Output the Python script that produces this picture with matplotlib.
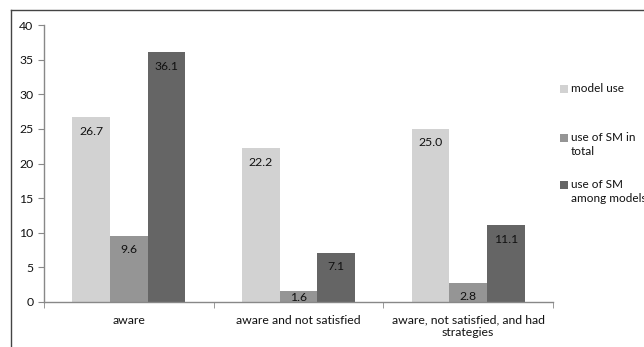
import matplotlib
matplotlib.use("Agg")
import matplotlib.pyplot as plt
import numpy as np
from matplotlib.lines import Line2D
from matplotlib.patches import Rectangle

categories = ["aware", "aware and not satisfied", "aware, not satisfied, and had\nstrategies"]
series_names = ["model use", "use of SM in\ntotal", "use of SM\namong models"]
model_use = [26.7, 22.2, 25.0]
sm_total = [9.6, 1.6, 2.8]
sm_models = [36.1, 7.1, 11.1]
colors = ["#d2d2d2", "#959595", "#656565"]

plt.rcParams["font.family"] = ["Lato", "DejaVu Sans"]

W, H = 644, 347
fig = plt.figure(figsize=(W / 100, H / 100), dpi=100)
ax = fig.add_axes([44 / W, 1 - 302 / H, (553 - 44) / W, (302 - 25) / H])

ax.set_xlim(-0.5, len(categories) - 0.5)
ax.set_ylim(0, 40)

x = np.arange(len(categories))
w = 0.222
# data units per pixel along y, used to keep value labels inside their bars
px = 40 / (302 - 25)
for i, (vals, c) in enumerate(zip([model_use, sm_total, sm_models], colors)):
    pos = x + (i - 1) * w
    ax.bar(pos, vals, width=w, color=c, edgecolor="none")
    for xb, v in zip(pos, vals):
        ly = max(v - 14 * px, 4.5 * px)
        ax.text(xb, ly, f"{v:.1f}", ha="center", va="center", fontsize=8.8, color="#111111")

ax.set_yticks(range(0, 41, 5))
ax.set_xticks(x)
ax.set_xticklabels(categories, fontsize=8.8, color="#111111")
ax.set_xticks(np.arange(-0.5, len(categories), 1), minor=True)
ax.tick_params(axis="x", which="major", length=0, pad=9)
ax.tick_params(axis="x", which="minor", length=4, color="#888888", direction="out")
ax.tick_params(axis="y", length=4, color="#888888", labelsize=8.8, labelcolor="#111111")
for s in ["top", "right"]:
    ax.spines[s].set_visible(False)
for s in ["left", "bottom"]:
    ax.spines[s].set_color("#888888")
    ax.spines[s].set_linewidth(1.0)

# legend entries: swatch plus label, first text line centred on the swatch
legend_rows = [89, 138, 185]
for name, c, yrow in zip(series_names, colors, legend_rows):
    fig.add_artist(Rectangle((560 / W, 1 - (yrow + 4) / H), 8 / W, 8 / H,
                             transform=fig.transFigure, facecolor=c, edgecolor="none"))
    fig.text(571 / W, 1 - (yrow - 6) / H, name, ha="left", va="top",
             fontsize=8.5, color="#111111", linespacing=1.35)

# chart frame (left and top edges)
fig.add_artist(Line2D([11 / W, 11 / W], [0, 1 - 10 / H], transform=fig.transFigure,
                      color="#444444", linewidth=1.0))
fig.add_artist(Line2D([11 / W, 1], [1 - 10 / H, 1 - 10 / H], transform=fig.transFigure,
                      color="#444444", linewidth=1.0))

fig.savefig("out.png", dpi=100)
